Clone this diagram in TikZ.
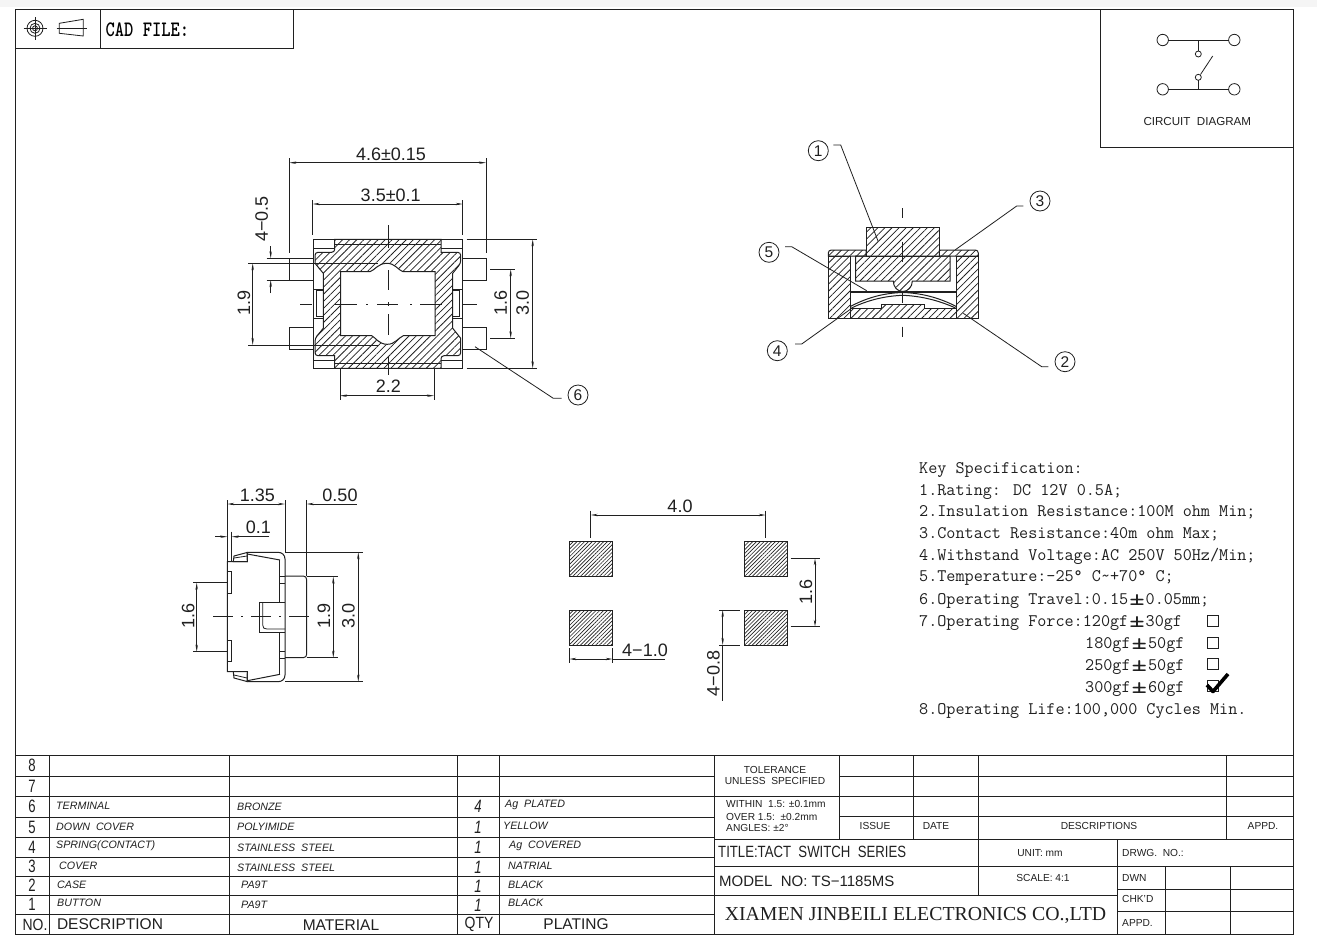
\documentclass[tikz,border=0pt]{standalone}
\usepackage{fontspec}
\setmainfont{Liberation Sans}
\newfontfamily\compfont{Liberation Serif}
\usetikzlibrary{arrows.meta,patterns.meta}
\definecolor{ink}{HTML}{202020}
\newcommand{\pmw}{\kern1pt\smash{\raisebox{-1pt}{\scalebox{1.7}[1.4]{±}}}\kern1pt }
\newcommand{\tall}[1]{\scalebox{0.82}[1.12]{#1}}
\tikzset{
  ln/.style={draw=ink,line width=1pt},
  thin ln/.style={draw=ink,line width=0.8pt},
  dimln/.style={draw=ink,line width=0.8pt,{Stealth[length=7pt,width=2.4pt]}-{Stealth[length=7pt,width=2.4pt]}},
  dimend/.style={draw=ink,line width=0.8pt,-{Stealth[length=7pt,width=2.4pt]}},
  centre/.style={draw=ink,line width=0.8pt,dash pattern=on 20pt off 8pt on 2pt off 8pt},
  hatchA/.style={ln,pattern={Lines[angle=45,distance=5pt,line width=0.75pt]},pattern color=ink},
  hatchB/.style={ln,pattern={Lines[angle=45,distance=2.7pt,line width=0.65pt]},pattern color=ink},
  dm/.style={font=\fontsize{18}{18}\selectfont,inner sep=0pt,text=ink},
  dmv/.style={dm,rotate=90},
  ball/.style={circle,draw=ink,line width=0.8pt,minimum size=20pt,inner sep=0pt,font=\fontsize{15.5}{15.5}\selectfont,text=ink},
  tb/.style={font=\fontsize{10.7}{11}\selectfont\itshape,inner sep=0pt,anchor=west,text=ink},
  tn/.style={font=\fontsize{16}{16}\selectfont,inner sep=0pt,text=ink},
  hd/.style={font=\fontsize{15.5}{16}\selectfont,inner sep=0pt,text=ink},
  sm/.style={font=\fontsize{10.2}{11}\selectfont,inner sep=0pt,text=ink},
  sml/.style={sm,anchor=west},
  sp/.style={font=\ttfamily\fontsize{17.65}{17}\selectfont,inner sep=0pt,anchor=base west,text=ink},
  chkbox/.style={draw=ink,line width=0.7pt,minimum size=11pt,inner sep=0pt},
}
\begin{document}
\begin{tikzpicture}[x=1pt,y=-1pt]
\useasboundingbox (0,0) rectangle (1317,943);
\fill[white] (0,0) rectangle (1317,943);
\fill[black!4] (0,0) rectangle (1317,6.5);
% frame
\draw[ln] (15,9) rectangle (1293,934);
\draw[ln] (15,48.5) -- (293.5,48.5) -- (293.5,9);
\draw[ln] (100,9) -- (100,48.5);
% header symbols
\draw[thin ln] (35,28.3) circle (8) (35,28.3) circle (5) (35,28.3) circle (2.5);
\draw[thin ln] (23.5,28.3) -- (46.5,28.3) (35,17) -- (35,39.5);
\draw[thin ln] (59.3,23.3) -- (83.3,19.3) -- (83.3,36) -- (59.3,33.3) -- cycle;
\draw[thin ln] (56.7,28.3) -- (86.7,28.3);
\node[inner sep=0pt,anchor=west,text=black] (cadfile) at (105.5,29.5) {\ttfamily\bfseries\fontsize{17.65}{17}\selectfont\scalebox{1}[1.25]{CAD FILE:}};
% circuit diagram
\draw[ln] (1100.7,9) -- (1100.7,147) -- (1293,147);
\draw[thin ln] (1168.4,40) -- (1228.6,40) (1168.4,89.3) -- (1228.6,89.3);
\draw[thin ln] (1162.7,40) circle (5.7) (1234.3,40) circle (5.7) (1162.7,89.3) circle (5.7) (1234.3,89.3) circle (5.7);
\draw[thin ln] (1198.3,40) -- (1198.3,51) (1198.3,80.3) -- (1198.3,89.3);
\draw[thin ln] (1198.3,54) circle (3) (1198.3,77.3) circle (3);
\draw[thin ln] (1200.5,74.5) -- (1212.7,56);
\node[font=\fontsize{11.6}{12}\selectfont,inner sep=0pt,text=ink] (circ) at (1197.3,121.7) {CIRCUIT\ \ DIAGRAM};

% ===== top view =====
\draw[ln] (313.3,239.3) rectangle (462.7,368.3);
\draw[ln] (289.3,258.3) rectangle (313.3,280);
\draw[ln] (289.3,327.3) rectangle (313.3,349);
\draw[ln] (462.7,258.3) rectangle (486.7,280);
\draw[ln] (462.7,327.3) rectangle (486.7,349);
\draw[thin ln] (313.3,248.3) -- (335,248.3) (441,248.3) -- (462.7,248.3) (313.3,360) -- (335,360) (441,360) -- (462.7,360);
\draw[thin ln] (313.3,289.3) -- (323,289.3) (313.3,318.3) -- (323,318.3) (453,289.3) -- (462.7,289.3) (453,318.3) -- (462.7,318.3);
\draw[thin ln] (316.7,290.7) rectangle (323.5,316.7) (452.7,290.7) rectangle (459,316.7);
\draw[hatchA] (334.7,239.3) -- (441,239.3) -- (441,252.3) -- (456.7,252.3) [rounded corners=3pt] -- (460.7,252.3) -- (460.7,263.3) [sharp corners] -- (452.7,273.3) -- (452.7,328.3) -- (460.7,338.3) [rounded corners=3pt] -- (460.7,355.7) -- (441,355.7) [sharp corners] -- (441,368.3) -- (334.7,368.3) -- (334.7,355.7) [rounded corners=3pt] -- (315,355.7) -- (315,338.3) [sharp corners] -- (323.3,328.3) -- (323.3,273.3) -- (315,263.3) [rounded corners=3pt] -- (315,252.3) -- (334.7,252.3) [sharp corners] -- cycle;
\draw[ln,fill=white] (340.7,271.7) -- (370,271.7) .. controls (375,270) and (378,263.3) .. (387,263.3) .. controls (395,263.3) and (398,270) .. (403,271.7) -- (435,271.7) -- (435,335.7) -- (403.3,335.7) .. controls (398,338) and (395,344.3) .. (387.3,344.3) .. controls (379,344.3) and (376,338) .. (371.7,335.7) -- (340.7,335.7) -- cycle;
\draw[thin ln] (334.7,244) -- (441,244) (334.7,363.3) -- (441,363.3);
\draw[thin ln] (248,263.3) -- (378,263.3) (248,345) -- (378,345);
% centre lines of top view
\draw[thin ln] (388,225) -- (388,248.3) (388,270) -- (388,290) (388,302) -- (388,306) (388,314) -- (388,335) (388,357) -- (388,375);
\draw[thin ln] (300,304) -- (312,304) (335,304) -- (357,304) (366,304) -- (368,304) (377,304) -- (398,304) (410,304) -- (412,304) (420,304) -- (442,304) (463,304) -- (477,304);
% dims top view
\draw[thin ln] (289.3,158) -- (289.3,253) (486,158) -- (486,253);
\draw[dimln] (289.3,162.7) -- (486,162.7);
\node[dm] (d46) at (391,154) {4.6±0.15};
\draw[thin ln] (312.7,200) -- (312.7,235) (462.7,200) -- (462.7,235);
\draw[dimln] (312.7,204) -- (462.7,204);
\node[dm] (d35) at (390.7,195) {3.5±0.1};
\node[dmv] (d405) at (261.7,219) {4−0.5};
\draw[thin ln] (266.7,258.3) -- (289.3,258.3) (266.7,280) -- (289.3,280);
\draw[dimend] (270.7,246) -- (270.7,258.3);
\draw[dimend] (270.7,293) -- (270.7,280);
\draw[dimln] (252.7,263.3) -- (252.7,345);
\node[dmv] (d19) at (244,303) {1.9};
\draw[thin ln] (490,269.3) -- (515,269.3) (490,338.3) -- (515,338.3);
\draw[dimln] (510.7,269.3) -- (510.7,338.3);
\node[dmv] (d16) at (500.7,302.7) {1.6};
\draw[thin ln] (466.7,239.3) -- (537.3,239.3) (466.7,368.3) -- (537.3,368.3);
\draw[dimln] (532.7,239.3) -- (532.7,368.3);
\node[dmv] (d30) at (522.7,302.7) {3.0};
\draw[thin ln] (340,368.3) -- (340,400) (434,368.3) -- (434,400);
\draw[dimln] (340,395.7) -- (434,395.7);
\node[dm] (d22) at (388.3,386.7) {2.2};
\node[ball] (b6) at (578,395) {6};
\draw[thin ln] (475,346.7) -- (553.3,398.3) -- (561.7,398.3);

% ===== section =====
\draw[hatchA] (832,250) -- (866,250) -- (866,256) -- (828.3,256) [rounded corners=3pt] -- (828.3,250) -- (836,250);
\draw[hatchA] (973,250) -- (939.3,250) -- (939.3,256) -- (978.3,256) [rounded corners=3pt] -- (978.3,250) -- (970,250);
\draw[hatchA] (828.3,256) rectangle (850,318.3);
\draw[hatchA] (956.7,256) rectangle (978.3,318.3);
\draw[hatchA] (866,227.7) rectangle (939.3,256);
\draw[hatchA] (855.5,256) -- (950,256) -- (950,281) -- (912.3,281) .. controls (912.3,287) and (908,291.5) .. (902.7,291.5) .. controls (897.5,291.5) and (893.3,287) .. (893.3,281) -- (855.5,281) -- cycle;
\draw[hatchA] (850,308) -- (881.7,308) -- (881.7,304) -- (924.3,304) -- (924.3,308) -- (956.7,308) -- (956.7,318.3) -- (850,318.3) -- cycle;
\draw[ln,line width=1.7pt] (850,292.3) -- (956.7,292.3);
\draw[ln] (850,306.7) .. controls (868,297) and (885,293) .. (902.7,292.5) .. controls (920,293) and (938,297) .. (956.7,306.7);
\draw[ln] (851.5,308) .. controls (868,300) and (885,296) .. (902.7,295.3) .. controls (920,296) and (938,300) .. (955.5,308);
\draw[thin ln] (902.7,208.3) -- (902.7,218) (902.7,241.7) -- (902.7,261.7) (902.7,291.7) -- (902.7,303.3) (902.7,326.7) -- (902.7,336.7);
\node[ball] (b1) at (818.3,150.7) {1};
\node[ball] (b3) at (1040,201) {3};
\node[ball] (b5) at (769,252.3) {5};
\node[ball] (b4) at (777.3,350.7) {4};
\node[ball] (b2) at (1065,361.7) {2};
\draw[thin ln] (833.3,145) -- (840.7,145) -- (878.3,241.7);
\draw[thin ln] (1023.3,206) -- (1016.7,206) -- (955,250);
\draw[thin ln] (785,246.7) -- (791.7,246.7) -- (866.7,290.7);
\draw[thin ln] (795,344) -- (801.7,344) -- (851.7,308.3);
\draw[thin ln] (1048.3,366.7) -- (1041.7,366.7) -- (963.3,313.3);

% ===== side view =====
\draw[ln] (227.3,561.7) -- (247.3,561.7) -- (247.3,552.3) -- (278,552.3) .. controls (282,552.3) and (285,555) .. (285,559) -- (285,675) .. controls (285,679) and (282,681.7) .. (278,681.7) -- (247.3,681.7) -- (247.3,671.7) -- (227.3,671.7) -- cycle;
\draw[ln,fill=white] (233.3,561.7) -- (234,556) -- (247,552.5) -- (247.3,561.7) -- cycle;
\draw[ln,fill=white] (233.3,671.7) -- (234,678) -- (247,681.5) -- (247.3,671.7) -- cycle;
\draw[thin ln] (234,558) -- (247,556) (234,675) -- (247,678);
\draw[ln] (247.3,554) -- (280,560) (247.3,680.7) -- (280,674.3);
\draw[ln] (279.3,560) -- (279.3,602.7) -- (259.3,602.7) -- (259.3,632.3) -- (279.3,632.3) -- (279.3,674.3);
\draw[thin ln] (262.7,602.7) -- (262.7,625) .. controls (262.7,628) and (264,629) .. (267,629) -- (285,629);
\draw[thin ln] (264,602.7) -- (285,602.7) (264,632.3) -- (285,632.3);
\draw[thin ln] (279.3,576.7) -- (285,576.7) (279.3,583.3) -- (285,583.3) (279.3,651) -- (285,651) (279.3,658.3) -- (285,658.3);
\draw[ln] (227.3,571.7) rectangle (231.7,593.3) (227.3,640) rectangle (231.7,661.7);
\draw[ln] (285,576) -- (303.3,576) .. controls (305.5,576) and (306.7,577.5) .. (306.7,580) -- (306.7,654) .. controls (306.7,656) and (305.5,657.7) .. (303.3,657.7) -- (285,657.7);
\draw[centre] (213.3,616.7) -- (316.7,616.7);
% side dims
\draw[thin ln] (227.3,500) -- (227.3,561.7) (285,500) -- (285,553) (306.7,500) -- (306.7,576);
\draw[dimln] (227.3,504) -- (285,504);
\node[dm] (d135) at (257.3,495) {1.35};
\draw[dimend] (356.7,504) -- (306.7,504);
\node[dm] (d050) at (340,495) {0.50};
\draw[thin ln] (231.7,531.7) -- (231.7,561.7);
\draw[dimend] (215,536.7) -- (227.3,536.7);
\draw[dimend] (269.3,536.7) -- (231.7,536.7);
\node[dm] (d01) at (258.3,527.3) {0.1};
\draw[thin ln] (193.3,582.7) -- (227.3,582.7) (193.3,651.7) -- (227.3,651.7);
\draw[dimln] (196.7,582.7) -- (196.7,651.7);
\node[dmv] (d16b) at (188.3,616) {1.6};
\draw[thin ln] (306.7,576.7) -- (338.3,576.7) (306.7,657.7) -- (338.3,657.7);
\draw[dimln] (333.3,576.7) -- (333.3,657.7);
\node[dmv] (d19b) at (324,616) {1.9};
\draw[thin ln] (285,552.3) -- (363.3,552.3) (285,681.7) -- (363.3,681.7);
\draw[dimln] (358.3,552.3) -- (358.3,681.7);
\node[dmv] (d30b) at (348.3,616) {3.0};

% ===== pads =====
\draw[hatchB] (569.3,541) rectangle (612.7,576);
\draw[hatchB] (744.3,541) rectangle (787.7,576);
\draw[hatchB] (569.3,610) rectangle (612.7,645);
\draw[hatchB] (744.3,610) rectangle (787.7,645);
\draw[thin ln] (590.7,510.7) -- (590.7,537.7) (765.7,510.7) -- (765.7,537.7);
\draw[dimln] (590.7,515) -- (765.7,515);
\node[dm] (d40) at (680,506.7) {4.0};
\draw[thin ln] (790.7,558.3) -- (820,558.3) (790.7,626.7) -- (820,626.7);
\draw[dimln] (815,558.3) -- (815,626.7);
\node[dmv] (d16c) at (806,591.7) {1.6};
\draw[thin ln] (719.3,610) -- (740,610) (719.3,645) -- (740,645);
\draw[dimln] (722.7,610) -- (722.7,645);
\draw[thin ln] (722.7,645) -- (722.7,700.7);
\node[dmv] (d408) at (713.3,673.3) {4−0.8};
\draw[thin ln] (569.3,648.3) -- (569.3,663.3) (612.7,648.3) -- (612.7,663.3);
\draw[dimln] (569.3,659) -- (612.7,659);
\draw[thin ln] (612.7,659) -- (665,659);
\node[dm] (d410) at (645,650) {4−1.0};

% ===== spec text =====
\node[sp] (s0) at (919,473) {Key Specification:};
\node[sp] (s1) at (919,495) {1.Rating: DC 12V 0.5A;};
\node[sp] (s2) at (919,516) {2.Insulation Resistance:100M ohm Min;};
\node[sp] (s3) at (919,538) {3.Contact Resistance:40m ohm Max;};
\node[sp] (s4) at (919,560) {4.Withstand Voltage:AC 250V 50Hz/Min;};
\node[sp] (s5) at (919,581) {5.Temperature:-25° C\textasciitilde+70° C;};
\node[sp] (s6) at (919,604) {6.Operating Travel:0.15\pmw 0.05mm;};
\node[sp] (s7) at (919,626) {7.Operating Force:120gf\pmw 30gf};
\node[sp] (s7b) at (1085,648) {180gf\pmw 50gf};
\node[sp] (s7c) at (1085,670) {250gf\pmw 50gf};
\node[sp] (s7d) at (1085,692) {300gf\pmw 60gf};
\node[sp] (s8) at (919,714) {8.Operating Life:100,000 Cycles Min.};
\node[chkbox] (c1) at (1213,621) {};
\node[chkbox] (c2) at (1213,643) {};
\node[chkbox] (c3) at (1213,664) {};
\node[chkbox] (c4) at (1213,686) {};
\draw[black,line width=3.6pt,line join=round] (1207,685) -- (1213,691.5) -- (1228,674);

% ===== table left =====
\foreach \yy in {755,776,796,817,837,857,876,895,914}{\draw[ln] (15,\yy) -- (714,\yy);}
\foreach \xx in {49,229,457,499,714}{\draw[ln] (\xx,755) -- (\xx,934);}
\node[tn] (n8) at (32,765.5) {\tall{8}};
\node[tn] (n7) at (32,786) {\tall{7}};
\node[tn] (n6) at (32,806.5) {\tall{6}};
\node[tn] (n5) at (32,827) {\tall{5}};
\node[tn] (n4) at (32,847) {\tall{4}};
\node[tn] (n3) at (32,866.5) {\tall{3}};
\node[tn] (n2) at (32,885.5) {\tall{2}};
\node[tn] (n1) at (32,904.5) {\tall{1}};
\node[tb] (a6) at (56,806) {TERMINAL};
\node[tb] (b6t) at (237,807) {BRONZE};
\node[tn] (q6) at (478,806) {\tall{\itshape 4}};
\node[tb] (p6) at (505,805) {Ag\ \ PLATED};
\node[tb] (a5) at (56,827) {DOWN\ \ COVER};
\node[tb] (b5t) at (237,827) {POLYIMIDE};
\node[tn] (q5) at (478,827) {\tall{\itshape 1}};
\node[tb] (p5) at (503,826) {YELLOW};
\node[tb] (a4) at (56,846) {SPRING(CONTACT)};
\node[tb] (b4t) at (237,848) {STAINLESS\ \ STEEL};
\node[tn] (q4) at (478,847) {\tall{\itshape 1}};
\node[tb] (p4) at (509,846) {Ag\ \ COVERED};
\node[tb] (a3) at (59,866) {COVER};
\node[tb] (b3t) at (237,868) {STAINLESS\ \ STEEL};
\node[tn] (q3) at (478,867) {\tall{\itshape 1}};
\node[tb] (p3) at (508,866) {NATRIAL};
\node[tb] (a2) at (57,885) {CASE};
\node[tb] (b2t) at (241,885) {PA9T};
\node[tn] (q2) at (478,886) {\tall{\itshape 1}};
\node[tb] (p2) at (508,885) {BLACK};
\node[tb] (a1) at (57,903) {BUTTON};
\node[tb] (b1t) at (241,905) {PA9T};
\node[tn] (q1) at (478,905) {\tall{\itshape 1}};
\node[tb] (p1) at (508,903) {BLACK};
\node[hd] (h1) at (35,924.5) {\scalebox{0.9}[1.05]{NO.}};
\node[hd] (h2) at (110,924.5) {DESCRIPTION};
\node[hd] (h3) at (341,925) {MATERIAL};
\node[hd] (h4) at (479,924.5) {\scalebox{0.9}[1.05]{QTY}};
\node[hd] (h5) at (576,924.5) {PLATING};

% ===== table right =====
\draw[ln] (714,755) -- (1293,755);
\draw[ln] (839,776) -- (1293,776) (714,796) -- (1293,796) (839,816) -- (1293,816) (714,839) -- (1293,839) (714,866) -- (1293,866) (714,895) -- (1117,895);
\draw[ln] (1117,889) -- (1293,889) (1117,911.5) -- (1293,911.5);
\foreach \xx in {839,913,1226}{\draw[ln] (\xx,755) -- (\xx,839);}
\draw[ln] (978,755) -- (978,895);
\draw[ln] (1117,839) -- (1117,934);
\draw[ln] (1165,866) -- (1165,934) (1230,866) -- (1230,934);
\node[sm] (t1) at (775,770) {TOLERANCE};
\node[sm] (t2) at (775,781) {UNLESS\ \ SPECIFIED};
\node[sml] (t3) at (726,804) {WITHIN\ \ 1.5: ±0.1mm};
\node[sml] (t4) at (726,816.5) {OVER 1.5:\ \ ±0.2mm};
\node[sml] (t5) at (726,828) {ANGLES: ±2°};
\node[sm] (t6) at (875,826) {ISSUE};
\node[sm] (t7) at (936,826) {DATE};
\node[sm] (t8) at (1099,826) {DESCRIPTIONS};
\node[sm] (t9) at (1263,826) {APPD.};
\node[font=\fontsize{15.5}{16}\selectfont,inner sep=0pt,anchor=west,text=ink] (t10) at (718,852) {\scalebox{0.85}[1.05]{TITLE:TACT\ \ SWITCH\ \ SERIES}};
\node[font=\fontsize{15}{16}\selectfont,inner sep=0pt,anchor=west,text=ink] (t11) at (719,881) {MODEL\ \ NO: TS−1185MS};
\node[font=\compfont\fontsize{19.8}{20}\selectfont,inner sep=0pt,text=ink] (t12) at (915.5,915.5) {XIAMEN JINBEILI ELECTRONICS CO.,LTD};
\node[sm] (t13) at (1040,853) {UNIT: mm};
\node[sm] (t14) at (1043,878) {SCALE: 4:1};
\node[sml] (t15) at (1122,853) {DRWG.\ \ NO.:};
\node[sml] (t16) at (1122,878) {DWN};
\node[sml] (t17) at (1122,899) {CHK'D};
\node[sml] (t18) at (1122,923) {APPD.};
\end{tikzpicture}
\end{document}
